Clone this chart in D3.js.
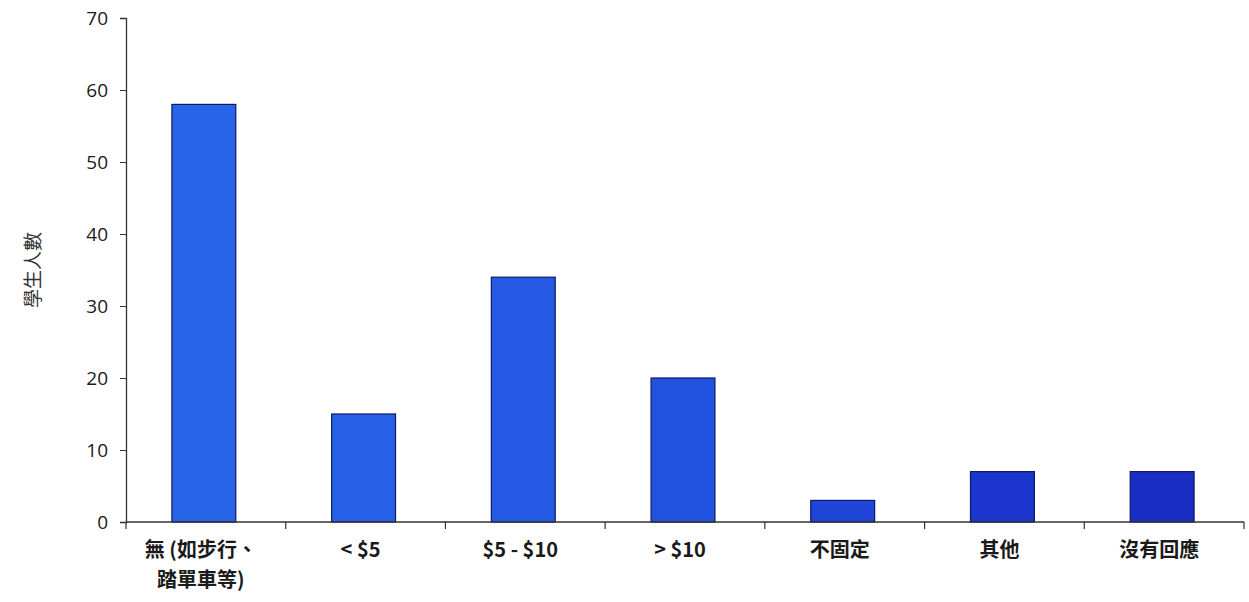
<!DOCTYPE html>
<html><head><meta charset="utf-8">
<script src="https://cdn.jsdelivr.net/npm/d3@7/dist/d3.min.js"></script>
<style>
body{margin:0;background:#fff;}
svg{display:block;}
</style></head>
<body>
<svg id="chart" width="1249" height="602"></svg>
<script>
const categories = ["無 (如步行、|踏單車等)", "< $5", "$5 - $10", "> $10", "不固定", "其他", "沒有回應"];
const values = [58, 15, 34, 20, 3, 7, 7];
const yTicks = [0, 10, 20, 30, 40, 50, 60, 70];
const yTitle = "學生人數";
const barColors = ["#2864e8", "#2660e6", "#2459e4", "#2252e0", "#1f44d8", "#1c35cc", "#1a2ec4"];

const svg = d3.select("#chart");
const m = {left: 126, right: 5, top: 18, bottom: 80};
const W = 1249, H = 602;
const x = d3.scaleBand().domain(categories).range([m.left, W - m.right]).paddingInner(0.6).paddingOuter(0.3);
const xb = d3.scaleBand().domain(categories).range([m.left, W - m.right]);
const y = d3.scaleLinear().domain([0, 70]).range([522, m.top]);
const color = d3.scaleOrdinal().domain(categories).range(barColors);

// bars
svg.append("g").selectAll("rect").data(categories).join("rect")
  .attr("x", d => x(d) - 2)
  .attr("y", (d, i) => y(values[i]))
  .attr("width", x.bandwidth())
  .attr("height", (d, i) => y(0) - y(values[i]))
  .attr("fill", d => color(d))
  .attr("stroke", "#0d1a6a")
  .attr("stroke-width", 1.2);

// y axis
const yAxis = svg.append("g").attr("transform", `translate(${m.left},0)`)
  .call(d3.axisLeft(y).tickValues(yTicks).tickSize(6).tickPadding(12));
yAxis.select(".domain").attr("stroke", "#333").attr("stroke-width", 1.3);
yAxis.selectAll(".tick line").attr("stroke", "#333");
yAxis.selectAll(".tick text").attr("font-family", "Open Sans, Liberation Sans, sans-serif").attr("font-size", 19).attr("fill", "#1a1a1a");

// x axis
const xAxisG = svg.append("g").attr("transform", `translate(0,${y(0)})`);
xAxisG.append("line").attr("x1", m.left).attr("x2", W - m.right).attr("stroke", "#333").attr("stroke-width", 1.3);
const edges = categories.map(c => xb(c)).concat([xb(categories[categories.length - 1]) + xb.bandwidth()]);
xAxisG.selectAll("line.tk").data(edges).join("line").attr("class", "tk")
  .attr("x1", d => d).attr("x2", d => d).attr("y1", 0).attr("y2", 7).attr("stroke", "#333").attr("stroke-width", 1.2);

const lbl = svg.append("g").selectAll("text").data(categories).join("text")
  .attr("x", d => xb(d) + xb.bandwidth() / 2 - 5)
  .attr("y", 557)
  .attr("text-anchor", "middle")
  .attr("font-family", "Noto Sans CJK TC, Open Sans, sans-serif")
  .attr("font-weight", "bold")
  .attr("font-size", 20)
  .attr("fill", "#1a1a1a");
lbl.each(function(d) {
  const parts = d.split("|");
  d3.select(this).selectAll("tspan").data(parts).join("tspan")
    .attr("x", d3.select(this).attr("x"))
    .attr("dy", (p, i) => i === 0 ? 0 : 30)
    .text(p => p);
});

// y title
svg.append("text")
  .attr("transform", `translate(40,${(y(0) + y(70)) / 2}) rotate(-90)`)
  .attr("text-anchor", "middle")
  .attr("font-family", "Noto Sans CJK TC, sans-serif")
  .attr("font-size", 19)
  .attr("fill", "#333")
  .text(yTitle);
</script>
</body></html>
